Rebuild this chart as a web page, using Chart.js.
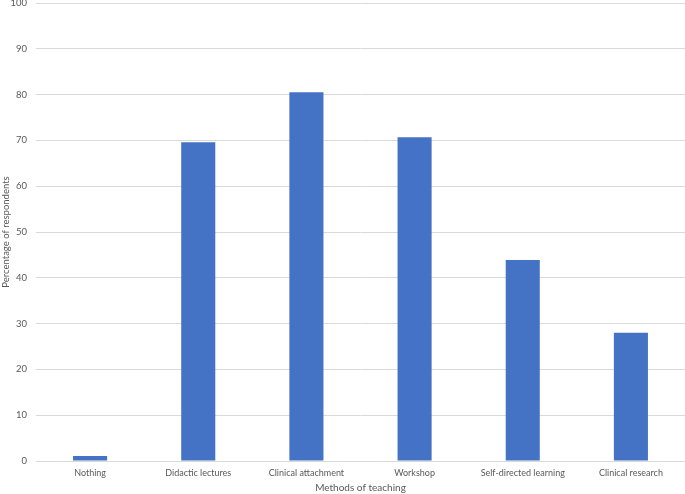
<!DOCTYPE html>
<html>
<head>
<meta charset="utf-8">
<script src="https://cdn.jsdelivr.net/npm/chart.js@4.4.0/dist/chart.umd.min.js"></script>
<style>
  html, body { margin: 0; padding: 0; background: #fff; }
</style>
</head>
<body>
<canvas id="myChart" width="685" height="494"></canvas>
<script>
var categories = ["Nothing", "Didactic lectures", "Clinical attachment", "Workshop", "Self-directed learning", "Clinical research"];
var percentages = [1.1, 69.6, 80.5, 70.7, 43.9, 28.0];
var yTicks = [0, 10, 20, 30, 40, 50, 60, 70, 80, 90, 100];

var ctx = document.getElementById('myChart').getContext('2d');
var myChart = new Chart(ctx, {
    type: 'bar',
    data: {
        labels: categories,
        datasets: [{
            data: percentages,
            backgroundColor: "#4472C4",
            barPercentage: 0.315,
            categoryPercentage: 1.0
        }]
    },
    options: {
        responsive: false,
        animation: false,
        layout: { padding: { top: 3, right: 0, left: 0, bottom: 0 } },
        plugins: {
            legend: { display: false },
            tooltip: { enabled: false }
        },
        scales: {
            x: {
                grid: { display: false, drawTicks: false },
                border: { color: '#d9d9d9' },
                ticks: { color: '#595959', font: { family: 'Lato', size: 9 }, maxRotation: 0, padding: 7 },
                title: { display: true, text: 'Methods of teaching', color: '#595959', font: { family: 'Lato', size: 10 }, padding: { top: 2, bottom: 0 } },
                afterFit: function(scale) { scale.height = 33; scale.paddingLeft = 0; scale.paddingRight = 0; }
            },
            y: {
                min: 0,
                max: 100,
                afterBuildTicks: function(scale) { scale.ticks = yTicks.map(function(v) { return { value: v }; }); },
                grid: { color: '#d9d9d9', drawTicks: false },
                border: { display: false },
                ticks: { color: '#595959', font: { family: 'Lato', size: 9.5 }, padding: 9 },
                title: { display: true, text: 'Percentage of respondents', color: '#595959', font: { family: 'Lato', size: 9.5 }, padding: { top: 0, bottom: 0 } },
                afterFit: function(scale) { scale.width = 36; scale.paddingTop = 0; scale.paddingBottom = 0; }
            }
        }
    }
});
</script>
</body>
</html>
